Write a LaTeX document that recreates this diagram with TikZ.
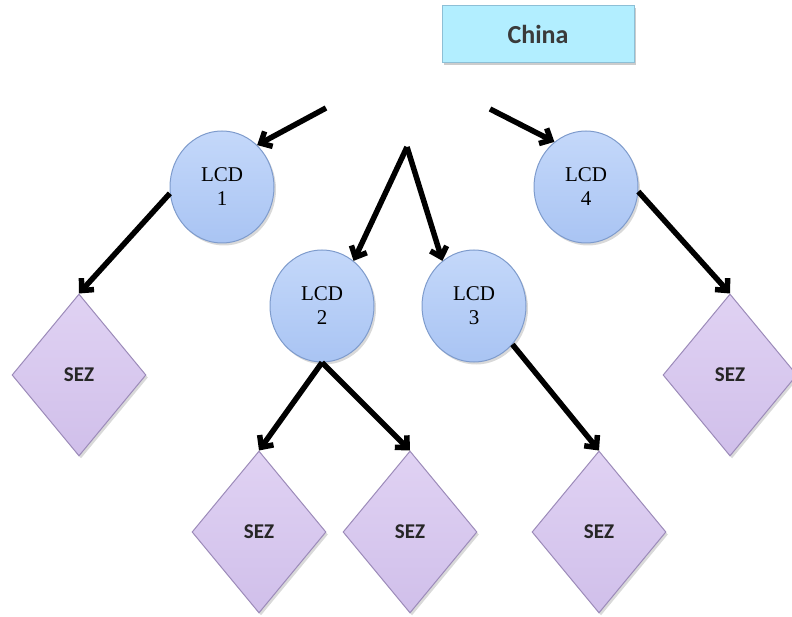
\documentclass[tikz,border=0pt]{standalone}
\usepackage{fontspec}
\setmainfont{Liberation Serif}
\newfontfamily\boxfont{Carlito}
\usepackage{xcolor}
\usepackage{tikz}
\usetikzlibrary{positioning,shapes.geometric,arrows.meta,shadows}
\definecolor{lcdtop}{HTML}{C4D8FA}
\definecolor{lcdbottom}{HTML}{A9C4F3}
\definecolor{lcdline}{HTML}{7E9BCC}
\definecolor{seztop}{HTML}{E0D2F3}
\definecolor{sezbottom}{HTML}{D0BFEA}
\definecolor{sezline}{HTML}{9C8BB9}
\definecolor{chinafill}{HTML}{B2EEFF}
\definecolor{chinaline}{HTML}{8DBFD6}
\definecolor{textgray}{HTML}{3A3A3A}
\begin{document}
\begin{tikzpicture}[x=1pt,y=-1pt,
  lcd/.style={ellipse, draw=lcdline, top color=lcdtop, bottom color=lcdbottom, line width=1pt,
    inner sep=0pt, minimum width=104pt, minimum height=112pt, align=center,
    font=\fontsize{21}{24}\selectfont,
    drop shadow={opacity=0.3, shadow xshift=2pt, shadow yshift=-2.5pt}},
  sez/.style={diamond, draw=sezline, top color=seztop, bottom color=sezbottom, line width=1pt,
    inner sep=0pt, minimum width=134pt, minimum height=162pt,
    font=\boxfont\bfseries\fontsize{21}{24}\selectfont, text=black!85,
    drop shadow={opacity=0.3, shadow xshift=2pt, shadow yshift=-2.5pt}},
  arr/.style={line width=5.5pt, -{Straight Barb[length=9pt, width=17pt, line width=5.5pt]}}]
\useasboundingbox (0,0) rectangle (792,617);
\node[draw=chinaline, fill=chinafill, line width=1pt, minimum width=192pt, minimum height=57pt,
  font=\boxfont\bfseries\fontsize{26}{29}\selectfont, text=textgray,
  drop shadow={opacity=0.4, shadow xshift=2pt, shadow yshift=-3pt}] (china) at (538,34) {China};
\node[lcd] (lcd1) at (222,187) {LCD\\1};
\node[lcd] (lcd2) at (322,306) {LCD\\2};
\node[lcd] (lcd3) at (474,306) {LCD\\3};
\node[lcd] (lcd4) at (586,187) {LCD\\4};
\node[sez] (sez1) at (79,375) {SEZ};
\node[sez] (sez2) at (259,532) {SEZ};
\node[sez] (sez3) at (410,532) {SEZ};
\node[sez] (sez4) at (599,532) {SEZ};
\node[sez] (sez5) at (730,375) {SEZ};
\coordinate (left) at (326,108);
\coordinate (right) at (490,109);
\coordinate (apex) at (407,147);
\draw[arr] (left) -- (lcd1.50);
\draw[arr] (right) -- (lcd4.125);
\draw[arr] (apex) -- (lcd2.55);
\draw[arr] (apex) -- (lcd3.125);
\draw[arr] (lcd1.187) -- (sez1.north);
\draw[arr] (lcd2.south) -- (sez2.north);
\draw[arr] (lcd2.south) -- (sez3.north);
\draw[arr] (lcd3.-45) -- (sez4.north);
\draw[arr] (lcd4.-5) -- (sez5.north);
\end{tikzpicture}
\end{document}
